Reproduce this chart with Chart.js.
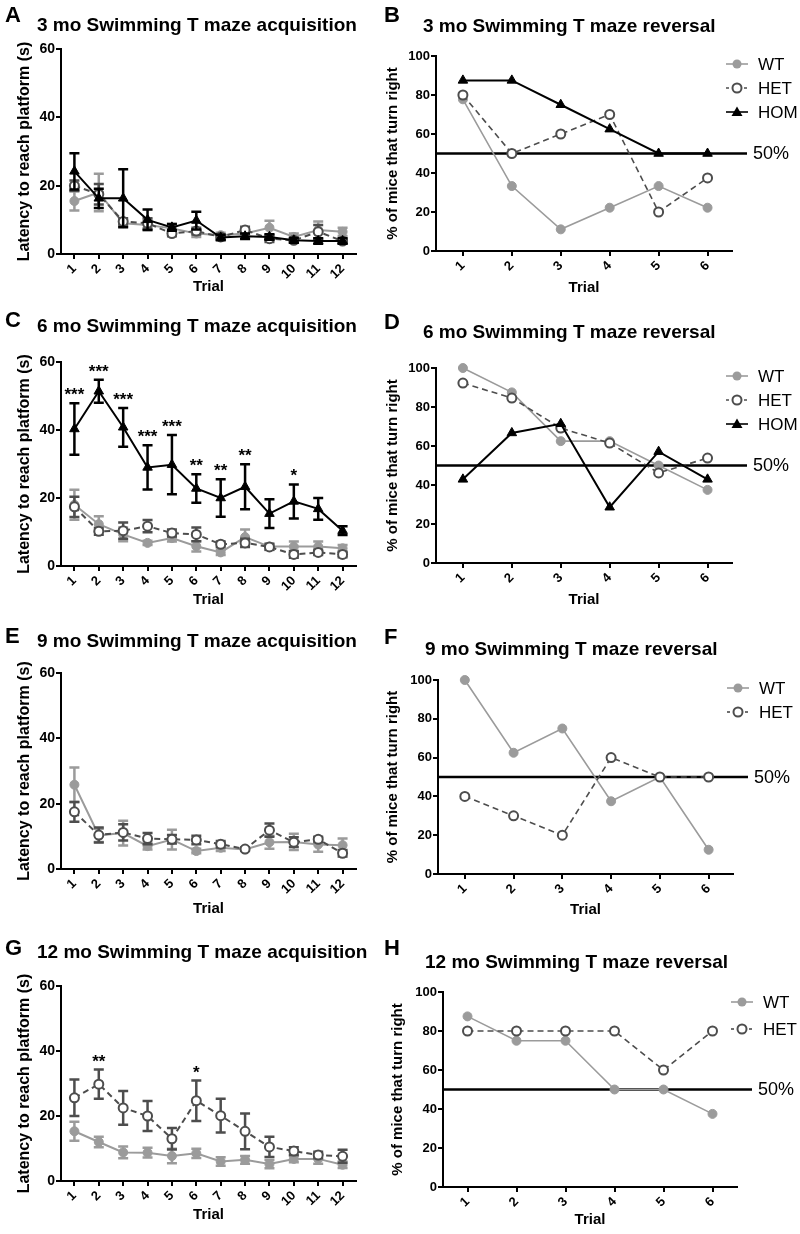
<!DOCTYPE html>
<html>
<head>
<meta charset="utf-8">
<script src="https://cdn.jsdelivr.net/npm/chart.js@4/dist/chart.umd.min.js"></script>
<style>
  body { margin: 0; background: #fff; }
  #fig { position: relative; width: 800px; height: 1234px; overflow: hidden; }
  #fig canvas { position: absolute; }
</style>
</head>
<body>
<div id="fig"></div>
<script>
// Trials on the x axes
const trials12 = [1, 2, 3, 4, 5, 6, 7, 8, 9, 10, 11, 12];
const trials6 = [1, 2, 3, 4, 5, 6];

// 3 mo acquisition (latency, s) and SEM
const wt3Acq = [15.5, 18, 9, 8.5, 7.5, 6, 5.5, 6, 7.7, 5, 7, 6.5];
const wt3AcqErr = [2.8, 5.5, 1, 1.5, 1.3, 1, 0.7, 1, 2, 1, 2.5, 1.2];
const het3Acq = [20, 17.5, 9.5, 9, 6, 6.7, 5, 7, 4.5, 4, 6.5, 3.8];
const het3AcqErr = [1.5, 3, 1, 1.5, 0.8, 1, 0.6, 1, 1, 0.7, 2, 0.7];
const hom3Acq = [24.2, 16.3, 16.3, 10, 7.8, 9.8, 4.8, 5.2, 5, 4, 3.8, 3.8];
const hom3AcqErr = [5.3, 2.8, 8.5, 3, 1, 2.6, 0.8, 0.8, 0.8, 0.7, 0.8, 0.8];

// 6 mo acquisition
const wt6Acq = [18, 12.3, 9.3, 6.8, 8.2, 5.8, 4, 8.5, 5.7, 5.7, 5.7, 5.2];
const wt6AcqErr = [4.4, 2.3, 2, 0.6, 1, 1.5, 0.8, 2.2, 1, 1.5, 1.5, 1];
const het6Acq = [17.4, 10.2, 10.4, 11.7, 9.7, 9.3, 6.4, 6.8, 5.6, 3.4, 4, 3.4];
const het6AcqErr = [3, 1, 2.4, 1.8, 1, 2, 0.8, 1.2, 0.8, 1, 0.8, 0.8];
const hom6Acq = [40.3, 51.4, 40.8, 29, 29.8, 22.8, 20, 23.3, 15.4, 19, 16.8, 10.4];
const hom6AcqErr = [7.6, 3.4, 5.7, 6.5, 8.7, 4.2, 5.5, 6.6, 4.2, 5, 3.2, 1.3];
const stars6 = ['***', '***', '***', '***', '***', '**', '**', '**', '', '*', '', ''];

// 9 mo acquisition
const wt9Acq = [25.8, 10.3, 11, 7, 9, 5.5, 6.5, 6, 8.2, 8.3, 7.5, 7.3];
const wt9AcqErr = [5.3, 2, 3.8, 1, 3, 0.7, 1, 0.5, 2, 2.5, 2.2, 2];
const het9Acq = [17.5, 10.4, 11.2, 9.3, 9.1, 8.9, 7.6, 6.1, 11.9, 8.2, 9.1, 4.8];
const het9AcqErr = [3, 2.3, 2.5, 1.7, 1.3, 1.3, 1, 0.5, 2, 1.5, 0.8, 1];

// 12 mo acquisition
const wt12Acq = [15.3, 12, 8.8, 8.7, 7.7, 8.5, 6, 6.5, 5.2, 6.8, 6.8, 5];
const wt12AcqErr = [2.9, 1.6, 1.8, 1.5, 2.2, 1.4, 1.3, 1.2, 1.3, 1, 1.5, 1];
const het12Acq = [25.6, 29.8, 22.5, 20, 13, 24.7, 20.1, 15.3, 10.5, 9.2, 8, 7.6];
const het12AcqErr = [5.6, 4.5, 5.2, 4.6, 3.3, 6.2, 5.2, 5.5, 3.1, 1.2, 1, 2];
const stars12 = ['', '**', '', '', '', '*', '', '', '', '', '', ''];

// Reversal (% of mice that turn right)
const wt3Rev = [77.8, 33.3, 11.1, 22.2, 33.3, 22.2];
const het3Rev = [80, 50, 60, 70, 20, 37.5];
const hom3Rev = [87.5, 87.5, 75, 62.5, 50, 50];
const wt6Rev = [100, 87.5, 62.5, 62.5, 50, 37.5];
const het6Rev = [92.3, 84.6, 69.2, 61.5, 46.2, 53.8];
const hom6Rev = [42.9, 66.7, 71.4, 28.6, 57.1, 42.9];
const wt9Rev = [100, 62.5, 75, 37.5, 50, 12.5];
const het9Rev = [40, 30, 20, 60, 50, 50];
const wt12Rev = [87.5, 75, 75, 50, 50, 37.5];
const het12Rev = [80, 80, 80, 80, 60, 80];

const FONT = "'Liberation Sans', Arial, sans-serif";
const GREY = '#9b9b9b', DARK = '#4d4d4d', BLACK = '#000000';
Chart.defaults.font.family = FONT;
Chart.defaults.color = '#000';

function pts(xs, ys) {
    return xs.map((x, i) => ({ x: x, y: ys[i] }));
}

function wtSet(xs, ys, errs) {
    return { label: 'WT', kind: 'wt', data: pts(xs, ys), errors: errs, clip: false,
        borderColor: GREY, backgroundColor: GREY, borderWidth: errs ? 2 : 1.6,
        pointStyle: 'circle', pointRadius: 4.5, pointBackgroundColor: GREY,
        pointBorderColor: GREY, pointBorderWidth: 1 };
}
function hetSet(xs, ys, errs) {
    return { label: 'HET', kind: 'het', data: pts(xs, ys), errors: errs, clip: false,
        borderColor: DARK, backgroundColor: '#fff', borderWidth: errs ? 2 : 1.6, borderDash: [6, 4],
        pointStyle: 'circle', pointRadius: 4.5, pointBackgroundColor: '#fff',
        pointBorderColor: DARK, pointBorderWidth: 2 };
}
function homSet(xs, ys, errs) {
    return { label: 'HOM', kind: 'hom', data: pts(xs, ys), errors: errs, clip: false,
        borderColor: BLACK, backgroundColor: BLACK, borderWidth: 2,
        pointStyle: 'triangle', pointRadius: 5.5, pointBackgroundColor: BLACK,
        pointBorderColor: BLACK, pointBorderWidth: 1 };
}

// Legend marker, drawn the way the plot draws it
function drawMarker(ctx, kind, x, y) {
    ctx.save();
    ctx.setLineDash([]);
    if (kind === 'hom') {
        ctx.fillStyle = BLACK;
        ctx.beginPath();
        ctx.moveTo(x, y - 5.5);
        ctx.lineTo(x + 5.5, y + 4);
        ctx.lineTo(x - 5.5, y + 4);
        ctx.closePath();
        ctx.fill();
    } else if (kind === 'het') {
        ctx.fillStyle = '#fff';
        ctx.strokeStyle = DARK;
        ctx.lineWidth = 2;
        ctx.beginPath();
        ctx.arc(x, y, 4.5, 0, Math.PI * 2);
        ctx.fill();
        ctx.stroke();
    } else {
        ctx.fillStyle = GREY;
        ctx.beginPath();
        ctx.arc(x, y, 4.5, 0, Math.PI * 2);
        ctx.fill();
    }
    ctx.restore();
}

// Error bars, stars, 50% line, legend, panel letter and title
function decor(p) {
    return {
        id: 'decor' + p.letter,
        beforeDatasetsDraw(chart) {
            if (!p.fifty) return;
            const ctx = chart.ctx, a = chart.chartArea;
            const y50 = chart.scales.y.getPixelForValue(50);
            ctx.save();
            ctx.strokeStyle = BLACK;
            ctx.lineWidth = 2.5;
            ctx.beginPath();
            ctx.moveTo(a.left, y50);
            ctx.lineTo(a.right + 15, y50);
            ctx.stroke();
            ctx.fillStyle = BLACK;
            ctx.font = '18px ' + FONT;
            ctx.textBaseline = 'middle';
            ctx.fillText('50%', a.right + 21, y50 + 1);
            ctx.restore();
        },
        beforeDatasetDraw(chart, args) {
            const ds = chart.data.datasets[args.index];
            if (!ds.errors) return;
            const ctx = chart.ctx, x = chart.scales.x, y = chart.scales.y;
            ctx.save();
            ctx.strokeStyle = ds.borderColor;
            ctx.lineWidth = 2.5;
            ds.data.forEach((pt, i) => {
                const e = ds.errors[i];
                const px = x.getPixelForValue(pt.x);
                const top = y.getPixelForValue(pt.y + e);
                const bot = y.getPixelForValue(Math.max(pt.y - e, 0));
                ctx.beginPath();
                ctx.moveTo(px, top); ctx.lineTo(px, bot);
                ctx.moveTo(px - 5, top); ctx.lineTo(px + 5, top);
                ctx.moveTo(px - 5, bot); ctx.lineTo(px + 5, bot);
                ctx.stroke();
            });
            ctx.restore();
        },
        afterDraw(chart) {
            const ctx = chart.ctx, a = chart.chartArea;
            ctx.save();
            ctx.fillStyle = BLACK;
            ctx.textAlign = 'left';
            ctx.textBaseline = 'alphabetic';
            ctx.font = 'bold 22px ' + FONT;
            ctx.fillText(p.letter, p.letterX - p.left, p.letterY - p.top);
            ctx.font = 'bold 19px ' + FONT;
            ctx.fillText(p.title, p.titleX - p.left, p.titleY - p.top);

            if (p.stars) {
                const ds = chart.data.datasets[p.starsIndex];
                ctx.font = 'bold 17px ' + FONT;
                ctx.textAlign = 'center';
                p.stars.forEach((s, i) => {
                    if (!s) return;
                    const px = chart.scales.x.getPixelForValue(ds.data[i].x);
                    const py = chart.scales.y.getPixelForValue(ds.data[i].y + ds.errors[i]);
                    ctx.fillText(s, px, py - 3);
                });
            }

            if (p.legend) {
                const cx = a.right + 5;
                chart.data.datasets.slice().sort((u, v) => p.legend.indexOf(u.kind) - p.legend.indexOf(v.kind))
                    .forEach((ds, i) => {
                        const ly = a.top + p.legendTop + i * p.legendGap;
                        ctx.save();
                        ctx.strokeStyle = ds.borderColor;
                        ctx.lineWidth = 1.6;
                        ctx.setLineDash(ds.kind === 'het' ? [3, 3] : []);
                        ctx.beginPath();
                        ctx.moveTo(cx - 11, ly);
                        ctx.lineTo(cx + 11, ly);
                        ctx.stroke();
                        ctx.restore();
                        drawMarker(ctx, ds.kind, cx, ly);
                        ctx.fillStyle = BLACK;
                        ctx.textAlign = 'left';
                        ctx.textBaseline = 'middle';
                        ctx.font = '17px ' + FONT;
                        ctx.fillText(ds.label, cx + 21, ly + 1);
                    });
            }
            ctx.restore();
        }
    };
}

const fig = document.getElementById('fig');

function makeChart(p) {
    const c = document.createElement('canvas');
    c.width = p.width;
    c.height = p.height;
    c.style.left = p.left + 'px';
    c.style.top = p.top + 'px';
    fig.appendChild(c);
    const a = p.area;
    const axisGrid = { drawOnChartArea: false, drawTicks: true, tickLength: 5, color: BLACK, lineWidth: 2 };
    const axisBorder = { display: true, color: BLACK, width: 2 };
    return new Chart(c, {
        type: 'line',
        data: { datasets: p.datasets },
        options: {
            responsive: false,
            animation: false,
            devicePixelRatio: 1,
            layout: { padding: { left: 0, top: a.t - p.top, right: p.left + p.width - a.r,
                bottom: p.top + p.height - a.b - 50 } },
            plugins: { legend: { display: false }, tooltip: { enabled: false }, title: { display: false } },
            scales: {
                x: {
                    type: 'linear', min: p.xMin, max: p.xMax,
                    afterBuildTicks: s => { s.ticks = p.xVals.map(v => ({ value: v })); },
                    afterFit: s => { s.height = 50; },
                    ticks: { minRotation: 45, maxRotation: 45, autoSkip: false, padding: 2,
                        font: { size: 13, weight: 'bold' }, color: BLACK },
                    grid: axisGrid,
                    border: axisBorder,
                    title: { display: true, text: 'Trial', color: BLACK,
                        font: { size: 15, weight: 'bold' }, padding: { top: 0, bottom: p.trialPad } }
                },
                y: {
                    min: 0, max: p.yMax,
                    afterFit: s => { s.width = a.l - p.left; },
                    ticks: { stepSize: p.yStep, padding: 1, font: { size: p.yTickSize, weight: 'bold' }, color: BLACK },
                    grid: axisGrid,
                    border: axisBorder,
                    title: { display: true, text: p.yTitle, color: BLACK,
                        font: { size: p.yTitleSize, weight: 'bold' }, padding: { top: p.yTitlePad, bottom: 0 } }
                }
            }
        },
        plugins: [decor(p)]
    });
}

const latency = 'Latency to reach platform (s)';
const percent = '% of mice that turn right';

function acqPanel(o) {
    return Object.assign({ left: 0, width: 385, xMin: 0.45, xMax: 12.55, xVals: trials12,
        yMax: 60, yStep: 20, yTickSize: 14, yTitle: latency, yTitleSize: 16, yTitlePad: 15,
        titleX: 37 }, o);
}
function revPanel(o) {
    return Object.assign({ left: 380, width: 420, xMin: 0.45, xMax: 6.5, xVals: trials6,
        yMax: 100, yStep: 20, yTickSize: 13, yTitle: percent, yTitleSize: 15, yTitlePad: 4,
        titleX: 423, fifty: true, legendTop: 8, legendGap: 24 }, o);
}

const panels = [
    acqPanel({ letter: 'A', letterX: 5, letterY: 22, title: '3 mo Swimming T maze acquisition', titleY: 31,
        top: 0, height: 304, area: { l: 61, t: 49, r: 356, b: 254 }, trialPad: 8,
        datasets: [homSet(trials12, hom3Acq, hom3AcqErr), hetSet(trials12, het3Acq, het3AcqErr),
            wtSet(trials12, wt3Acq, wt3AcqErr)] }),
    revPanel({ letter: 'B', letterX: 384, letterY: 22, title: '3 mo Swimming T maze reversal', titleY: 32,
        top: 0, height: 301, area: { l: 436, t: 56, r: 732, b: 251 }, trialPad: 4,
        legend: ['wt', 'het', 'hom'],
        datasets: [homSet(trials6, hom3Rev), hetSet(trials6, het3Rev), wtSet(trials6, wt3Rev)] }),
    acqPanel({ letter: 'C', letterX: 5, letterY: 327, title: '6 mo Swimming T maze acquisition', titleY: 332,
        top: 305, height: 311, area: { l: 61, t: 362, r: 356, b: 566 }, trialPad: 7,
        stars: stars6, starsIndex: 0,
        datasets: [homSet(trials12, hom6Acq, hom6AcqErr), hetSet(trials12, het6Acq, het6AcqErr),
            wtSet(trials12, wt6Acq, wt6AcqErr)] }),
    revPanel({ letter: 'D', letterX: 384, letterY: 329, title: '6 mo Swimming T maze reversal', titleY: 338,
        top: 305, height: 308, area: { l: 436, t: 368, r: 732, b: 563 }, trialPad: 4,
        legend: ['wt', 'het', 'hom'],
        datasets: [homSet(trials6, hom6Rev), hetSet(trials6, het6Rev), wtSet(trials6, wt6Rev)] }),
    acqPanel({ letter: 'E', letterX: 5, letterY: 643, title: '9 mo Swimming T maze acquisition', titleY: 647,
        top: 615, height: 304, area: { l: 61, t: 673, r: 356, b: 869 }, trialPad: 1,
        datasets: [hetSet(trials12, het9Acq, het9AcqErr), wtSet(trials12, wt9Acq, wt9AcqErr)] }),
    revPanel({ letter: 'F', letterX: 384, letterY: 644, title: '9 mo Swimming T maze reversal', titleY: 655,
        titleX: 425, top: 615, height: 309, area: { l: 438, t: 680, r: 733, b: 874 }, trialPad: 5,
        legend: ['wt', 'het'],
        datasets: [hetSet(trials6, het9Rev), wtSet(trials6, wt9Rev)] }),
    acqPanel({ letter: 'G', letterX: 5, letterY: 955, title: '12 mo Swimming T maze acquisition', titleY: 958,
        top: 920, height: 311, area: { l: 61, t: 986, r: 356, b: 1181 }, trialPad: 7,
        stars: stars12, starsIndex: 0,
        datasets: [hetSet(trials12, het12Acq, het12AcqErr), wtSet(trials12, wt12Acq, wt12AcqErr)] }),
    revPanel({ letter: 'H', letterX: 384, letterY: 955, title: '12 mo Swimming T maze reversal', titleY: 968,
        titleX: 425, top: 920, height: 314, area: { l: 443, t: 992, r: 737, b: 1187 }, trialPad: 8,
        yTitlePad: 9, xMin: 0.5, legend: ['wt', 'het'], legendGap: 27, legendTop: 10,
        datasets: [hetSet(trials6, het12Rev), wtSet(trials6, wt12Rev)] })
];

panels.forEach(makeChart);
</script>
</body>
</html>
